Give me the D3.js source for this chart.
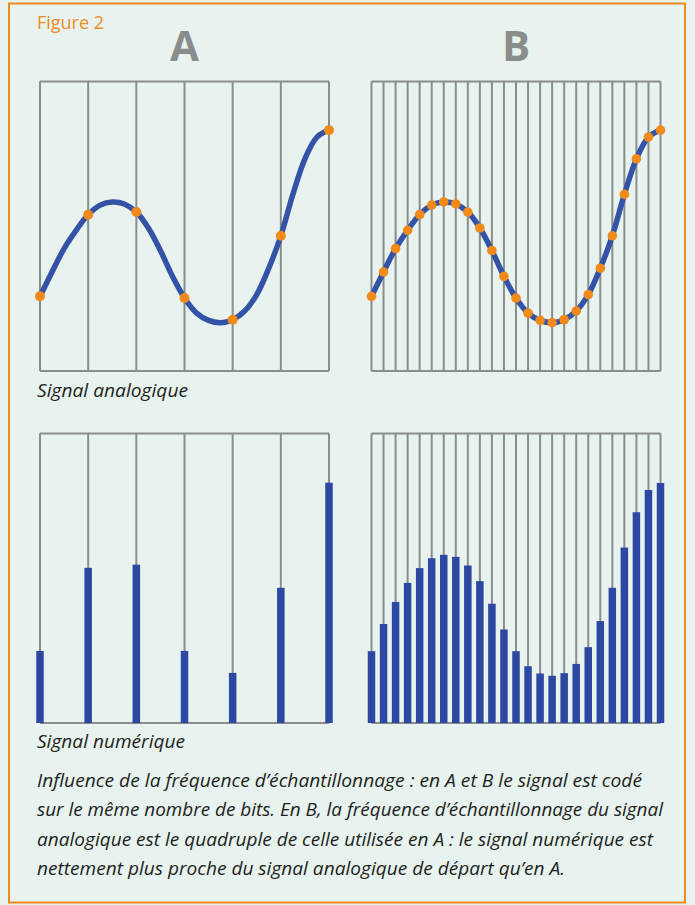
<!DOCTYPE html>
<html><head><meta charset="utf-8">
<script src="https://cdn.jsdelivr.net/npm/d3@7"></script>
<style>
html,body{margin:0;padding:0;background:#e8f3f0;}
svg{display:block;}
text{font-family:"Open Sans","Noto Sans",sans-serif;}
</style></head>
<body>
<script>
// ---- data (values 0..100 = bottom..top of a panel) ----
const analogSignal = [25.8,34.2,42.3,48.6,54.0,57.3,58.4,57.7,54.9,49.4,41.6,32.7,25.2,20.0,17.5,16.7,17.7,20.7,26.4,35.5,46.7,61.0,73.3,80.8,83.2];
const samplesA = [25.8,54.0,54.9,25.2,17.7,46.7,83.2];
const digitalA = [24.9,53.6,54.7,24.9,17.3,46.7,83.0];
const digitalB = [24.8,34.2,41.8,48.4,53.5,56.9,58.1,57.4,54.4,49.0,41.2,32.3,24.8,19.6,17.1,16.3,17.2,20.4,26.2,35.2,46.7,60.6,72.8,80.5,82.9];
const panelLetters = ["A","B"];
const rowLabels = ["Signal analogique","Signal numérique"];
const figureTitle = "Figure 2";
const captionLines = [
  "Influence de la fréquence d’échantillonnage : en A et B le signal est codé",
  "sur le même nombre de bits. En B, la fréquence d’échantillonnage du signal",
  "analogique est le quadruple de celle utilisée en A : le signal numérique est",
  "nettement plus proche du signal analogique de départ qu’en A."
];

const W = 695, H = 905;
const C = {bg:"#e8f3f0", orange:"#ee8a1e", gray:"#898e8b", blue:"#3553a6", bar:"#2c48a2", dot:"#f08a1a", text:"#231f20"};

const svg = d3.select("body").append("svg").attr("width", W).attr("height", H);
svg.append("rect").attr("width", W).attr("height", H).attr("fill", C.bg);
svg.append("rect").attr("x", 9).attr("y", 3.5).attr("width", 676).attr("height", 899)
  .attr("fill", "none").attr("stroke", C.orange).attr("stroke-width", 2);

svg.append("text").attr("x", 37).attr("y", 29).attr("fill", C.orange)
  .attr("font-size", 18.5).attr("textLength", 67).attr("lengthAdjust", "spacingAndGlyphs").text(figureTitle);

const panelW = 289, panelH = 289.5;
const colX = [40, 371.5];
const rowY = [81.5, 433.5];

panelLetters.forEach((L, i) => {
  svg.append("text").attr("x", colX[i] + panelW/2).attr("y", 61)
    .attr("text-anchor", "middle").attr("font-size", 42).attr("font-weight", 700)
    .attr("fill", C.gray).text(L);
});

function panel(gx, gy, n) {
  const g = svg.append("g").attr("transform", `translate(${gx},${gy})`);
  const x = d3.scaleLinear().domain([0, n - 1]).range([0, panelW]);
  const y = d3.scaleLinear().domain([0, 100]).range([panelH, 0]);
  return {g, x, y};
}

function gridLines(p, n) {
  const idx = d3.range(n);
  p.g.append("line").attr("x1", 0).attr("x2", panelW).attr("y1", 0).attr("y2", 0)
    .attr("stroke", C.gray).attr("stroke-width", 2);
  p.g.append("line").attr("x1", 0).attr("x2", panelW).attr("y1", panelH).attr("y2", panelH)
    .attr("stroke", C.gray).attr("stroke-width", 2);
  p.g.selectAll("line.v").data(idx).join("line").attr("class", "v")
    .attr("x1", d => p.x(d)).attr("x2", d => p.x(d))
    .attr("y1", 0).attr("y2", panelH)
    .attr("stroke", C.gray).attr("stroke-width", 2);
}

// top row: analog
[[0, 7], [1, 25]].forEach(([ci, n]) => {
  const p = panel(colX[ci], rowY[0], n);
  gridLines(p, n);
  const xa = d3.scaleLinear().domain([0, analogSignal.length - 1]).range([0, panelW]);
  const line = d3.line().x((d, i) => xa(i)).y(d => p.y(d)).curve(d3.curveCatmullRom.alpha(0.5));
  p.g.append("path").attr("d", line(analogSignal)).attr("fill", "none")
    .attr("stroke", C.blue).attr("stroke-width", 5.5).attr("stroke-linecap", "round");
  const pts = ci === 0 ? samplesA : analogSignal;
  p.g.selectAll("circle").data(pts).join("circle")
    .attr("cx", (d, i) => p.x(i)).attr("cy", d => p.y(d))
    .attr("r", ci === 0 ? 5 : 4.8).attr("fill", C.dot);
});

// bottom row: digital
[[0, digitalA], [1, digitalB]].forEach(([ci, vals]) => {
  const n = vals.length;
  const p = panel(colX[ci], rowY[1], n);
  gridLines(p, n);
  const bw = 7.5;
  p.g.selectAll("rect").data(vals).join("rect")
    .attr("x", (d, i) => p.x(i) - bw/2).attr("width", bw)
    .attr("y", d => p.y(d)).attr("height", d => panelH - p.y(d))
    .attr("fill", C.bar);
});

// row labels
svg.append("text").attr("x", 37).attr("y", 397).attr("font-size", 18).attr("font-style", "italic")
  .attr("fill", C.text).attr("textLength", 151).attr("lengthAdjust", "spacingAndGlyphs").text(rowLabels[0]);
svg.append("text").attr("x", 37).attr("y", 748).attr("font-size", 18).attr("font-style", "italic")
  .attr("fill", C.text).attr("textLength", 148).attr("lengthAdjust", "spacingAndGlyphs").text(rowLabels[1]);

// caption
const capEnds = [642, 663, 653, 565];
captionLines.forEach((t, i) => {
  svg.append("text").attr("x", 37).attr("y", 787 + i * 29.3)
    .attr("font-size", 17.5).attr("font-style", "italic").attr("fill", C.text)
    .attr("textLength", capEnds[i] - 37).attr("lengthAdjust", "spacingAndGlyphs")
    .text(t);
});
</script>
</body></html>
